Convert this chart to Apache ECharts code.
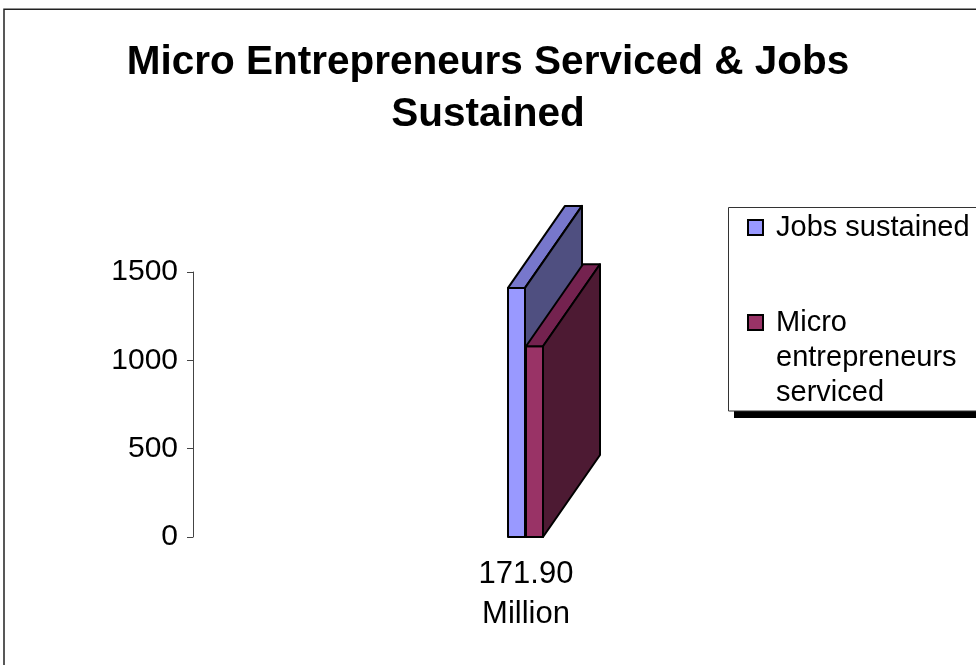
<!DOCTYPE html>
<html>
<head>
<meta charset="utf-8">
<script src="https://cdn.jsdelivr.net/npm/echarts@6/dist/echarts.min.js"></script>
<style>
  html, body { margin: 0; padding: 0; background: #fff; }
  #main { width: 976px; height: 665px; }
</style>
</head>
<body>
<div id="main"></div>
<script>
// chart data
const categories = ['171.90\nMillion']
const seriesNames = ['Jobs sustained', 'Micro entrepreneurs serviced']
const jobsSustained = [1410]
const microEntrepreneurs = [1080]
const yTicks = [0, 500, 1000, 1500]

const FONT = 'Liberation Sans, Arial, sans-serif'
const BAR_W = 17
const DEPTH_X = 57
const DEPTH_Y = -82

// 3d-looking bar: front face + top face + right side face
const makeRender = (offset, faces) => {
  return function (params, api) {
    const top = api.coord([api.value(0), api.value(1)])
    const base = api.coord([api.value(0), 0])
    const x0 = top[0] + offset
    const x1 = x0 + BAR_W
    const yt = top[1]
    const yb = base[1]
    const stroke = { stroke: '#000', lineWidth: 2, lineJoin: 'round' }
    return {
      type: 'group',
      children: [
        {
          type: 'polygon',
          shape: { points: [[x0, yt], [x1, yt], [x1, yb], [x0, yb]] },
          style: Object.assign({ fill: faces[0] }, stroke)
        },
        {
          type: 'polygon',
          shape: { points: [[x0, yt], [x0 + DEPTH_X, yt + DEPTH_Y], [x1 + DEPTH_X, yt + DEPTH_Y], [x1, yt]] },
          style: Object.assign({ fill: faces[1] }, stroke)
        },
        {
          type: 'polygon',
          shape: { points: [[x1, yt], [x1 + DEPTH_X, yt + DEPTH_Y], [x1 + DEPTH_X, yb + DEPTH_Y], [x1, yb]] },
          style: Object.assign({ fill: faces[2] }, stroke)
        }
      ]
    }
  }
}

// long legend names go one word per line, padded with blank lines above
// so the first line sits level with the marker
const legendText = (name) => {
  const lines = name.length > 16 ? name.split(' ') : [name]
  const blanks = new Array(lines.length - 1).fill('')
  return blanks.concat(lines).map((l) => '\u00a0' + l).join('\n')
}

const myChart = echarts.init(document.getElementById('main'))
const option = {
  animation: false,
  backgroundColor: '#fff',
  title: {
    text: 'Micro Entrepreneurs Serviced & Jobs\nSustained',
    left: 'center',
    top: 32,
    textStyle: {
      fontFamily: FONT,
      fontSize: 40.5,
      fontWeight: 'bold',
      lineHeight: 52,
      color: '#000'
    }
  },
  graphic: [
    {
      type: 'rect',
      shape: { x: 4, y: 9.3, width: 1000, height: 700 },
      style: { fill: 'none', stroke: '#222', lineWidth: 1.5 },
      z: -1
    },
    {
      // legend drop shadow
      type: 'rect',
      shape: { x: 734, y: 214, width: 300, height: 204 },
      style: { fill: '#000' }
    },
    {
      type: 'rect',
      shape: { x: 728.5, y: 207.5, width: 300, height: 203.5 },
      style: { fill: '#fff', stroke: '#333', lineWidth: 1 }
    }
  ],
  legend: {
    orient: 'vertical',
    left: 728,
    top: 207,
    padding: [3, 20, 0, 19],
    itemWidth: 15,
    itemHeight: 15,
    itemGap: -10,
    icon: 'rect',
    itemStyle: { borderColor: '#000', borderWidth: 2 },
    formatter: legendText,
    textStyle: {
      fontFamily: FONT,
      fontSize: 29,
      lineHeight: 35,
      color: '#000'
    },
    data: seriesNames
  },
  grid: {
    left: 193,
    right: 117,
    top: 272,
    bottom: 128
  },
  xAxis: {
    type: 'category',
    data: categories,
    axisLine: { show: false },
    axisTick: { show: false },
    axisLabel: {
      fontFamily: FONT,
      fontSize: 31,
      lineHeight: 40,
      color: '#000',
      margin: 17
    }
  },
  yAxis: {
    type: 'value',
    min: yTicks[0],
    max: yTicks[yTicks.length - 1],
    interval: yTicks[1] - yTicks[0],
    splitLine: { show: false },
    axisLine: { show: true, lineStyle: { color: '#444', width: 1 } },
    axisTick: { show: true, length: 6, lineStyle: { color: '#444' } },
    axisLabel: {
      fontFamily: FONT,
      fontSize: 30,
      color: '#000',
      margin: 15,
      formatter: (v) => String(v)
    }
  },
  series: [
    {
      name: seriesNames[0],
      type: 'custom',
      clip: false,
      itemStyle: { color: '#9999FF' },
      renderItem: makeRender(-BAR_W - 1, ['#9999FF', '#7777CC', '#4F4F80']),
      data: jobsSustained.map((v, i) => [i, v])
    },
    {
      name: seriesNames[1],
      type: 'custom',
      clip: false,
      itemStyle: { color: '#993366' },
      renderItem: makeRender(0, ['#993366', '#74224F', '#4D1A33']),
      data: microEntrepreneurs.map((v, i) => [i, v])
    }
  ]
}

myChart.setOption(option)
</script>
</body>
</html>
